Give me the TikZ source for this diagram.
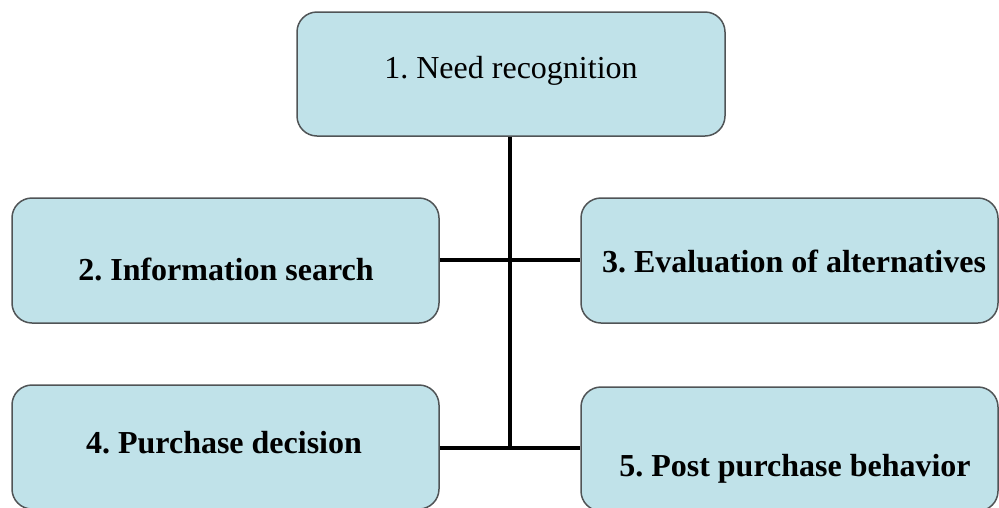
\documentclass[tikz,border=0pt]{standalone}
\usepackage{fontspec}
\setmainfont{Liberation Serif}
\definecolor{boxfill}{RGB}{192,226,233}
\definecolor{boxline}{RGB}{80,84,86}
\frenchspacing
\begin{document}
\begin{tikzpicture}[x=1pt,y=-1pt,
  stagebox/.style={draw=boxline,line width=1.5pt,fill=boxfill,rounded corners=20pt,inner sep=0pt},
  stagetext/.style={inner sep=0pt,font=\fontsize{32}{36}\selectfont},
  boldtext/.style={stagetext,font=\fontsize{32}{36}\selectfont\bfseries},
  link/.style={line width=3.8pt,black}]
\useasboundingbox (0,0) rectangle (999,507);
\node[stagebox,minimum width=428pt,minimum height=124pt] (b1) at (511,74) {};
\node[stagebox,minimum width=427pt,minimum height=125pt] (b2) at (225.5,260.5) {};
\node[stagebox,minimum width=417pt,minimum height=125pt] (b3) at (789.5,260.5) {};
\node[stagebox,minimum width=427pt,minimum height=124pt] (b4) at (225.5,447) {};
\node[stagebox,minimum width=417pt,minimum height=124pt] (b5) at (789.5,449) {};
\node[stagetext] (t1) at (511,71) {1. Need recognition};
\node[boldtext] (t2) at (226,269) {2. Information search};
\node[boldtext] (t3) at (794,261) {3. Evaluation of alternatives};
\node[boldtext] (t4) at (224,443) {4. Purchase decision};
\node[boldtext] (t5) at (795,469) {5. Post purchase behavior};
\coordinate (j1) at (510,260);
\coordinate (j2) at (510,448);
\draw[link] (b1.south -| j1) -- (j2);
\draw[link] (b2.east |- j1) -- (b3.west |- j1);
\draw[link] (b4.east |- j2) -- (j2) -- (b5.west |- j2);
\end{tikzpicture}
\end{document}
